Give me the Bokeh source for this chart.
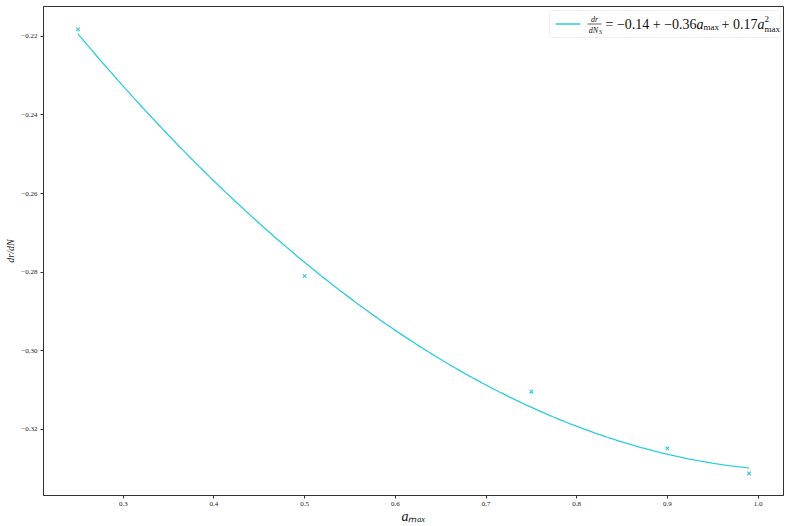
import numpy as np
from bokeh.plotting import figure
from bokeh.models import FixedTicker, BoxAnnotation, Label, Arrow
from bokeh.embed import file_html
from bokeh.resources import INLINE

# data
a_max = [0.25, 0.50, 0.75, 0.90, 0.99]
dr_dN = [-0.2182, -0.2810, -0.3104, -0.3248, -0.3312]
# fit coefficients given in the legend
fit_c0, fit_c1, fit_c2 = -0.14, -0.36, 0.17
x_ticks = [0.3, 0.4, 0.5, 0.6, 0.7, 0.8, 0.9, 1.0]
x_tick_labels = ["0.3", "0.4", "0.5", "0.6", "0.7", "0.8", "0.9", "1.0"]
y_ticks = [-0.32, -0.30, -0.28, -0.26, -0.24, -0.22]
y_tick_labels = ["\u22120.32", "\u22120.30", "\u22120.28", "\u22120.26", "\u22120.24", "\u22120.22"]

COL = "#2cccda"
FONT = "Liberation Serif"

# layout (pixels)
FIG_W, FIG_H = 789, 526
B_LEFT, B_RIGHT, B_TOP, B_BOTTOM = 43, 6, 6, 30
W = FIG_W - B_LEFT - B_RIGHT   # frame width
H = FIG_H - B_TOP - B_BOTTOM   # frame height

xf = np.linspace(min(a_max), max(a_max), 200)
yf = fit_c0 + fit_c1 * xf + fit_c2 * xf ** 2

p = figure(width=FIG_W, height=FIG_H, output_backend="svg", toolbar_location=None,
           x_range=(0.212, 1.028), y_range=(-0.3368, -0.2124),
           min_border_left=B_LEFT, min_border_right=B_RIGHT,
           min_border_top=B_TOP, min_border_bottom=B_BOTTOM)
p.background_fill_color = "white"
p.border_fill_color = "white"
p.grid.visible = False
p.outline_line_color = "#333333"

p.line(xf, yf, line_color=COL, line_width=1.3)
p.scatter(a_max, dr_dN, marker="x", size=5, line_color=COL, line_width=1.1)

for ax in (p.xaxis[0], p.yaxis[0]):
    ax.major_label_text_font = FONT
    ax.major_label_text_font_size = "7px"
    ax.major_label_text_color = "#222222"
    ax.axis_line_color = "#333333"
    ax.major_tick_line_color = "#333333"
    ax.major_tick_out = 3
    ax.major_tick_in = 0
    ax.minor_tick_line_color = None

p.xaxis.ticker = FixedTicker(ticks=x_ticks)
p.xaxis.major_label_overrides = {t: l for t, l in zip(x_ticks, x_tick_labels)}
p.yaxis.ticker = FixedTicker(ticks=y_ticks)
p.yaxis.major_label_overrides = {t: l for t, l in zip(y_ticks, y_tick_labels)}
p.xaxis.major_label_standoff = 3
p.yaxis.major_label_standoff = 3

p.xaxis.axis_label = "a\u2098\u2090\u2093"
p.xaxis.axis_label_text_font = FONT
p.xaxis.axis_label_text_font_style = "italic"
p.xaxis.axis_label_text_font_size = "14px"
p.xaxis.axis_label_text_color = "#111111"
p.xaxis.axis_label_standoff = 0
p.yaxis.axis_label = "dr/dN"
p.yaxis.axis_label_text_font = FONT
p.yaxis.axis_label_text_font_style = "italic"
p.yaxis.axis_label_text_font_size = "10px"
p.yaxis.axis_label_text_color = "#111111"
p.yaxis.axis_label_standoff = 2

# frame border
p.add_layout(BoxAnnotation(fill_color=None, fill_alpha=0, line_color="#333333", line_width=1))

def lab(text, x, y, size, style="normal", align="left", baseline="middle"):
    p.add_layout(Label(text=text, x=x, y=y, x_units="screen", y_units="screen",
                       text_font=FONT, text_font_size=f"{size}px", text_font_style=style,
                       text_color="#111111", text_align=align, text_baseline=baseline))

def seg(x0, y0, x1, y1, color, width):
    p.add_layout(Arrow(x_start=x0, y_start=y0, x_end=x1, y_end=y1,
                       start_units="screen", end_units="screen", end=None,
                       line_color=color, line_width=width))

# legend (positions relative to the frame's top-right corner)
def LX(d):  # d: px left of frame right
    return W - d
def LY(d):  # d: px below frame top
    return H - d

p.add_layout(BoxAnnotation(left=LX(234), right=LX(3), top=LY(5), bottom=LY(32),
                           left_units="screen", right_units="screen",
                           top_units="screen", bottom_units="screen",
                           fill_color="white", fill_alpha=0.9, line_color="#cccccc",
                           line_width=1, border_radius=3))
seg(LX(228), LY(18.5), LX(203), LY(18.5), COL, 1.3)
lab("dr", LX(189), LY(13.5), 8, "italic", align="center")
seg(LX(196), LY(18.5), LX(182), LY(18.5), "#222222", 0.7)
lab("dN", LX(190), LY(24.5), 8, "italic", align="center")
lab("S", LX(184.5), LY(26.5), 6, "italic")
lab("= \u22120.14 + \u22120.36", LX(178), LY(18.5), 14)
lab("a", LX(87), LY(18.5), 14, "italic")
lab("max", LX(80), LY(21.5), 9)
lab("+ 0.17", LX(62), LY(18.5), 14)
lab("a", LX(26), LY(18.5), 14, "italic")
lab("2", LX(19), LY(13.5), 9)
lab("max", LX(19), LY(23.5), 9)

open("out.html", "w").write(file_html(p, INLINE))
